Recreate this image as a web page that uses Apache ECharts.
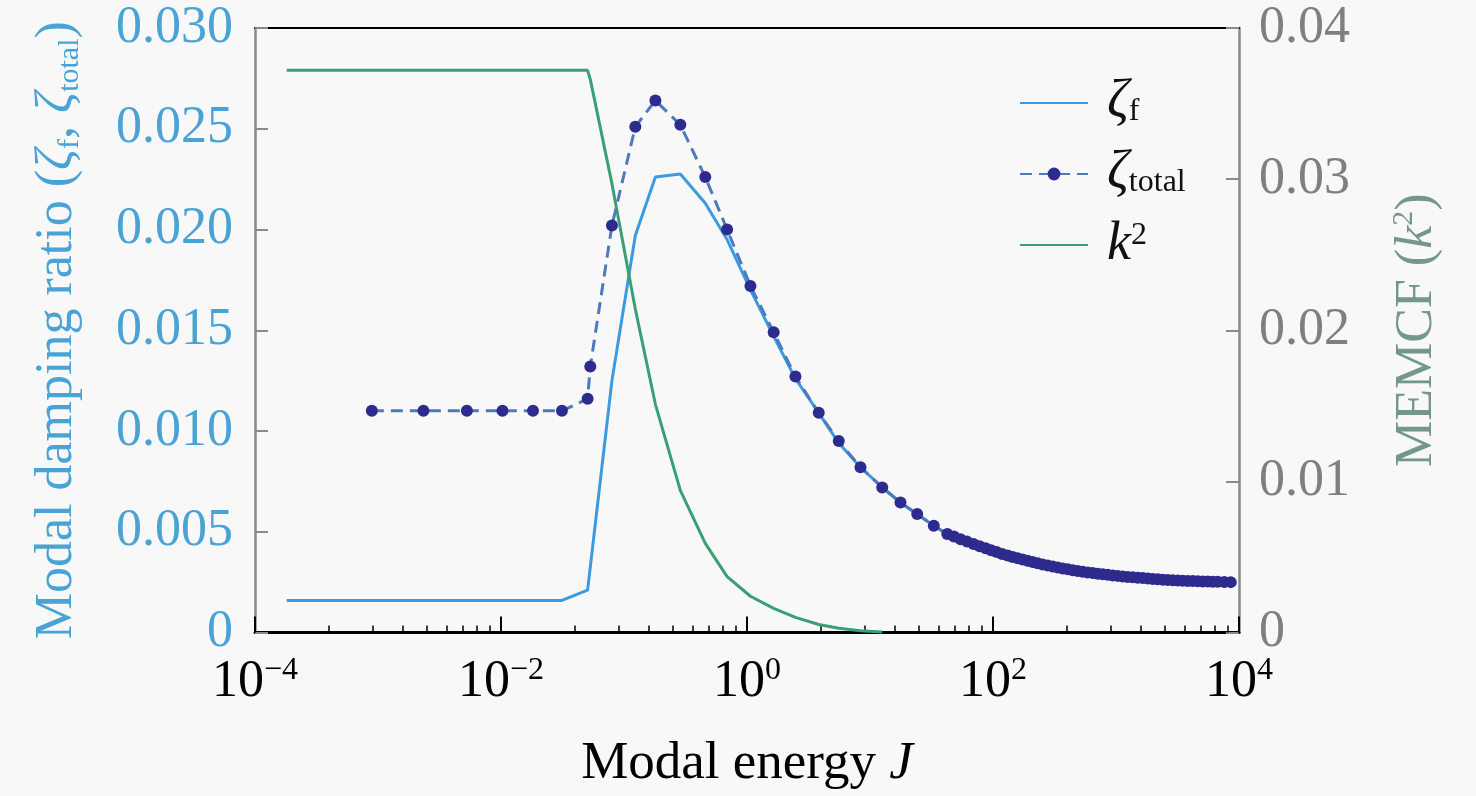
<!DOCTYPE html>
<html>
<head>
<meta charset="utf-8">
<script src="https://cdn.jsdelivr.net/npm/echarts@6/dist/echarts.min.js"></script>
<style>
html, body { margin: 0; padding: 0; background: #f8f8f8; }
#container { width: 1476px; height: 796px; }
</style>
</head>
<body>
<div id="container"></div>
<script>
var dom     = document.getElementById("container");
var myChart = echarts.init(dom);
var serif   = '"Liberation Serif", "DejaVu Serif", serif';

// zeta_f : modal energy J -> damping ratio
var fEnergy  = [1.81e-4, 0.0313, 0.0506, 0.0798, 0.1236, 0.180, 0.287, 0.458, 0.689, 1.067,
                1.648, 2.476, 3.83, 5.57, 8.37, 12.57, 17.7, 24.2, 33.0, 42.5,
                69.5, 131.5, 230.5, 404.5, 710, 1245, 2184, 3831, 6714, 8570];
var fDamping = [0.00159, 0.00159, 0.00210, 0.0125, 0.0197, 0.0226, 0.02275, 0.0213, 0.0195, 0.0170,
                0.0147, 0.0126, 0.0109, 0.0094, 0.0082, 0.0072, 0.00644, 0.00587, 0.0053, 0.00488,
                0.00438, 0.00381, 0.00343, 0.00313, 0.00291, 0.00275, 0.00263, 0.00255, 0.00251, 0.00250];

// zeta_total : modal energy J -> damping ratio (tail points are very dense)
var totalEnergy  = [8.91e-4, 2.34e-3, 5.28e-3, 1.028e-2, 1.82e-2, 3.13e-2, 5.06e-2, 5.32e-2, 7.98e-2, 0.1236,
                    0.180, 0.287, 0.458, 0.689, 1.067, 1.648, 2.476, 3.83, 5.57, 8.37,
                    12.57, 17.7, 24.2, 33.0, 42.5, 48.1, 54.5, 61.5, 69.5, 77.8,
                    87.1, 96.5, 107, 118.6, 131.5, 144.4, 158.5, 174, 191, 209.8,
                    230.5, 253, 278, 305.4, 335.5, 368.4, 404.5, 444.3, 488, 536,
                    589, 646.7, 710, 780, 857, 941, 1033, 1134, 1245, 1368,
                    1503, 1650, 1812, 1989, 2184, 2399, 2636, 2894, 3177, 3489,
                    3831, 4209, 4624, 5076, 5572, 6116, 6714, 7585, 8570];
var totalDamping = [0.0110, 0.0110, 0.0110, 0.0110, 0.0110, 0.0110, 0.0116, 0.0132, 0.0202, 0.0251,
                    0.0264, 0.0252, 0.0226, 0.0200, 0.0172, 0.0149, 0.0127, 0.0109, 0.0095, 0.0082,
                    0.0072, 0.00645, 0.00588, 0.0053, 0.00489, 0.00476, 0.00463, 0.00451, 0.00439, 0.00428,
                    0.00418, 0.00408, 0.00399, 0.00390, 0.00382, 0.00375, 0.00369, 0.00362, 0.00356, 0.00350,
                    0.00344, 0.00338, 0.00333, 0.00328, 0.00323, 0.00318, 0.00314, 0.00309, 0.00305, 0.00301,
                    0.00298, 0.00295, 0.00292, 0.00289, 0.00286, 0.00283, 0.00281, 0.00278, 0.00276, 0.00274,
                    0.00272, 0.00270, 0.00268, 0.00266, 0.00264, 0.00262, 0.00261, 0.00259, 0.00258, 0.00257,
                    0.00256, 0.00255, 0.00254, 0.00253, 0.00253, 0.00252, 0.00252, 0.00251, 0.00250];

// k^2 (MEMCF) : modal energy J -> coupling factor
var kEnergy   = [1.81e-4, 0.0313, 0.0506, 0.0532, 0.0798, 0.1236, 0.180, 0.287, 0.458, 0.689,
                 1.067, 1.648, 2.476, 3.83, 5.57, 8.37, 12.57];
var kCoupling = [0.0372, 0.0372, 0.0372, 0.0366, 0.0297, 0.0214, 0.0151, 0.0094, 0.0059, 0.0037,
                 0.0024, 0.0016, 0.0010, 0.00053, 0.00028, 0.00012, 0.00004];

// x tick labels are powers of ten, minor ticks at k^2 inside each 2-decade step
var xLabelPowers = [-4, -2, 0, 2, 4];
var minorSteps   = [2, 3, 4, 5, 6, 7, 8, 9];

function pairs(xs, ys) {
    var out = [];
    for (var i = 0; i < xs.length; i++) {
        out.push([xs[i], ys[i]]);
    }
    return out;
}

var minorTickPos = [];
for (var b = 0; b < xLabelPowers.length - 1; b++) {
    for (var j = 0; j < minorSteps.length; j++) {
        minorTickPos.push(+(xLabelPowers[b] + 2 * Math.log10(minorSteps[j])).toFixed(4));
    }
}

var legendText = {
    'zf':     '{z|ζ}{s|f}',
    'ztotal': '{z|ζ}{s|total}',
    'k2':     '{k|k}{p|2}'
};

var blue  = '#4aa3d5';
var gray  = '#8a8a8a';

option = {
    backgroundColor: '#f8f8f8',
    animation: false,
    grid: {
        left: 255,
        right: 237,
        top: 28,
        bottom: 160
    },
    legend: {
        orient: 'vertical',
        left: 1014,
        top: 71,
        itemWidth: 68,
        itemHeight: 16,
        itemGap: 17,
        data: [
            {name: 'zf', itemStyle: {opacity: 0}},
            'ztotal',
            {name: 'k2', itemStyle: {opacity: 0}}
        ],
        formatter: function (name) {
            return legendText[name];
        },
        textStyle: {
            color: '#111',
            fontFamily: serif,
            fontSize: 52,
            padding: [0, 0, 0, 14],
            rich: {
                z: {fontFamily: serif, fontSize: 54, fontStyle: 'italic', color: '#111', lineHeight: 50},
                s: {fontFamily: serif, fontSize: 32, color: '#111', verticalAlign: 'bottom', lineHeight: 30},
                k: {fontFamily: serif, fontSize: 54, fontStyle: 'italic', color: '#111', lineHeight: 50},
                p: {fontFamily: serif, fontSize: 32, color: '#111', verticalAlign: 'top', lineHeight: 30}
            }
        }
    },
    xAxis: [
        {
            // data axis
            type: 'log',
            logBase: 10,
            min: 1e-4,
            max: 1e4,
            position: 'bottom',
            axisLine: {show: true, onZero: false, lineStyle: {color: '#000', width: 3}},
            axisTick: {show: false},
            axisLabel: {show: false},
            splitLine: {show: false},
            minorTick: {show: false},
            minorSplitLine: {show: false}
        },
        {
            // major ticks and labels
            type: 'value',
            min: -4,
            max: 4,
            interval: 2,
            position: 'bottom',
            axisLine: {show: false, onZero: false},
            axisTick: {show: true, inside: true, length: 16, customValues: xLabelPowers,
                       lineStyle: {color: '#000', width: 2}},
            axisLabel: {
                customValues: xLabelPowers,
                margin: 22,
                formatter: function (v) {
                    var p = Math.round(v);
                    return '{b|10}{s|' + (p < 0 ? '\u2212' + (-p) : p) + '}';
                },
                rich: {
                    b: {fontFamily: serif, fontSize: 52, color: '#000', lineHeight: 56},
                    s: {fontFamily: serif, fontSize: 32, color: '#000', verticalAlign: 'top', lineHeight: 34}
                }
            },
            splitLine: {show: false},
            name: '{t|Modal energy }{j|J}',
            nameLocation: 'middle',
            nameGap: 102,
            nameTextStyle: {
                rich: {
                    t: {fontFamily: serif, fontSize: 53, color: '#000', lineHeight: 60},
                    j: {fontFamily: serif, fontSize: 53, fontStyle: 'italic', color: '#000', lineHeight: 60}
                }
            }
        },
        {
            // minor ticks
            type: 'value',
            min: -4,
            max: 4,
            position: 'bottom',
            axisLine: {show: false, onZero: false},
            axisTick: {show: true, inside: true, length: 7, customValues: minorTickPos,
                       lineStyle: {color: '#000', width: 1.5}},
            axisLabel: {show: false},
            splitLine: {show: false}
        },
        {
            // top frame
            type: 'value',
            min: -4,
            max: 4,
            position: 'top',
            axisLine: {show: true, onZero: false, lineStyle: {color: '#000', width: 2}},
            axisTick: {show: false},
            axisLabel: {show: false},
            splitLine: {show: false}
        }
    ],
    yAxis: [
        {
            type: 'value',
            min: 0,
            max: 0.03,
            interval: 0.005,
            position: 'left',
            axisLine: {show: true, onZero: false, lineStyle: {color: gray, width: 2.5}},
            axisTick: {show: true, inside: true, length: 13, lineStyle: {color: gray, width: 2}},
            axisLabel: {
                color: blue,
                fontFamily: serif,
                fontSize: 52,
                margin: 22,
                formatter: function (v) {
                    return v === 0 ? '0' : v.toFixed(3);
                }
            },
            splitLine: {show: false},
            name: '{t|Modal damping ratio (}{z|ζ}{s|f}{t|, }{z|ζ}{s|total}{t|)}',
            nameLocation: 'middle',
            nameRotate: 90,
            nameGap: 170,
            nameTextStyle: {
                rich: {
                    t: {fontFamily: serif, fontSize: 52, color: blue, lineHeight: 56},
                    z: {fontFamily: serif, fontSize: 52, fontStyle: 'italic', color: blue, lineHeight: 56},
                    s: {fontFamily: serif, fontSize: 30, color: blue, verticalAlign: 'bottom', lineHeight: 40}
                }
            }
        },
        {
            type: 'value',
            min: 0,
            max: 0.04,
            interval: 0.01,
            position: 'right',
            axisLine: {show: true, onZero: false, lineStyle: {color: gray, width: 2.5}},
            axisTick: {show: true, inside: true, length: 13, lineStyle: {color: gray, width: 2}},
            axisLabel: {
                color: '#7f7f7f',
                fontFamily: serif,
                fontSize: 52,
                margin: 20,
                formatter: function (v) {
                    return v === 0 ? '0' : v.toFixed(2);
                }
            },
            splitLine: {show: false},
            name: '{t|MEMCF (}{k|k}{p|2}{t|)}',
            nameLocation: 'middle',
            nameRotate: 90,
            nameGap: 150,
            nameTextStyle: {
                rich: {
                    t: {fontFamily: serif, fontSize: 52, color: '#739888', lineHeight: 56},
                    k: {fontFamily: serif, fontSize: 52, fontStyle: 'italic', color: '#739888', lineHeight: 56},
                    p: {fontFamily: serif, fontSize: 30, color: '#739888', verticalAlign: 'top', lineHeight: 40}
                }
            }
        }
    ],
    series: [
        {
            name: 'zf',
            type: 'line',
            xAxisIndex: 0,
            yAxisIndex: 0,
            data: pairs(fEnergy, fDamping),
            symbol: 'none',
            lineStyle: {color: '#3a9be0', width: 3},
            itemStyle: {color: '#3a9be0'},
            z: 2
        },
        {
            name: 'ztotal',
            type: 'line',
            xAxisIndex: 0,
            yAxisIndex: 0,
            data: pairs(totalEnergy, totalDamping),
            symbol: 'circle',
            symbolSize: 12,
            showSymbol: true,
            showAllSymbol: true,
            lineStyle: {color: '#4f79bd', width: 3, type: [12, 7]},
            itemStyle: {color: '#2e2b8e'},
            z: 4
        },
        {
            name: 'k2',
            type: 'line',
            xAxisIndex: 0,
            yAxisIndex: 1,
            data: pairs(kEnergy, kCoupling),
            symbol: 'none',
            lineStyle: {color: '#38a074', width: 3},
            itemStyle: {color: '#38a074'},
            z: 3
        }
    ]
};

myChart.setOption(option, true);
</script>
</body>
</html>
